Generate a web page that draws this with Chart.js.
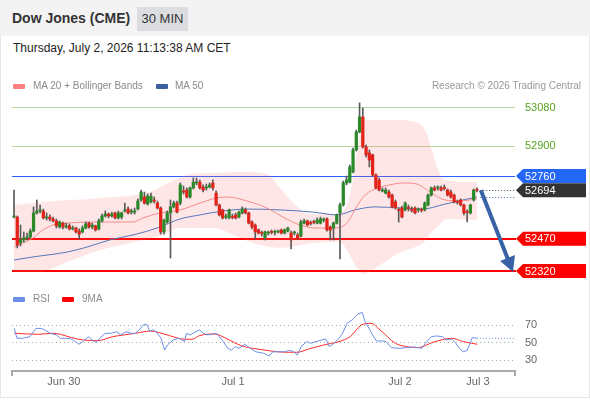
<!DOCTYPE html>
<html><head><meta charset="utf-8">
<script src="https://cdn.jsdelivr.net/npm/chart.js@4.4.1/dist/chart.umd.min.js"></script>
<style>
html,body{margin:0;padding:0;background:#fff;width:590px;height:400px;overflow:hidden;font-family:"Liberation Sans",Arial,sans-serif;}
#frame{position:absolute;left:0;top:0;width:588px;height:397px;border:1px solid #e6e6e6;border-top:none;}
#hdr{position:absolute;left:0;top:0;width:590px;height:36px;background:#f3f3f3;}
#title{position:absolute;left:12px;top:10px;font-size:14px;font-weight:bold;color:#333;}
#tf{position:absolute;left:137px;top:7px;width:51px;height:24px;background:#dcdde1;color:#333;font-size:13px;line-height:24px;text-align:center;}
#date{position:absolute;left:13px;top:41px;font-size:12px;color:#222;}
.leg{position:absolute;font-size:10px;color:#8a8a8a;line-height:12px;z-index:3;}
.sw{position:absolute;width:12px;height:5px;border-radius:1px;z-index:3;}
canvas{position:absolute;left:0;}
</style></head>
<body>
<div id="frame"></div>
<div id="hdr"><div id="title">Dow Jones (CME)</div><div id="tf">30 MIN</div></div>
<div id="date">Thursday, July 2, 2026 11:13:38 AM CET</div>
<div class="sw" style="left:13px;top:84px;background:#ff8080"></div>
<div class="leg" style="left:33px;top:80px">MA 20 + Bollinger Bands</div>
<div class="sw" style="left:156px;top:84px;background:#3b5fa0"></div>
<div class="leg" style="left:175px;top:80px">MA 50</div>
<div class="leg" style="right:9px;top:80px;color:#999">Research © 2026 Trading Central</div>
<div class="sw" style="left:13px;top:297px;background:#6d8fe8"></div>
<div class="leg" style="left:33px;top:293px">RSI</div>
<div class="sw" style="left:62px;top:297px;background:#ff0000"></div>
<div class="leg" style="left:82px;top:293px">9MA</div>
<canvas id="main" width="590" height="202" style="top:80px"></canvas>
<canvas id="rsi" width="590" height="90" style="top:300px"></canvas>
<script>
// ---- candle data (30 min bars) ----
const open=[52570,52570,52450,52464,52473,52478,52505,52589,52598,52598,
52566,52570,52561,52552,52524,52542,52524,52529,52515,52519,
52505,52501,52519,52542,52524,52529,52515,52552,52575,52584,
52575,52589,52566,52570,52598,52607,52593,52593,52607,52649,
52663,52630,52640,52649,52635,52612,52501,52547,52589,52617,
52635,52635,52691,52695,52663,52705,52728,52732,52709,52705,
52709,52728,52681,52626,52603,52570,52566,52570,52580,52570,
52589,52603,52589,52547,52533,52510,52496,52473,52496,52501,
52499,52501,52510,52496,52505,52496,52496,52487,52482,52542,
52552,52542,52547,52542,52542,52556,52561,52524,52519,52542,
52589,52626,52728,52732,52779,52881,52964,53034,52895,52867,
52858,52765,52742,52691,52681,52686,52672,52640,52603,52612,
52603,52612,52603,52612,52603,52603,52603,52626,52672,52705,
52705,52705,52705,52695,52686,52672,52640,52649,52626,52593,
52589,52649,52697];
const high=[52695,52575,52533,52501,52496,52515,52617,52649,52626,52607,
52589,52580,52570,52561,52552,52547,52542,52538,52529,52524,
52515,52529,52547,52547,52542,52533,52561,52584,52598,52589,
52593,52593,52598,52593,52635,52617,52607,52612,52654,52695,
52686,52677,52681,52663,52644,52617,52561,52598,52649,52644,
52644,52728,52714,52705,52709,52751,52751,52742,52719,52723,
52728,52742,52691,52630,52607,52584,52607,52584,52589,52598,
52617,52612,52593,52552,52538,52515,52505,52505,52505,52510,
52510,52510,52515,52515,52524,52505,52505,52496,52556,52561,
52556,52552,52556,52566,52570,52566,52566,52529,52547,52584,
52635,52737,52760,52811,52890,52973,53099,53075,52904,52881,
52862,52770,52751,52705,52705,52695,52677,52649,52612,52621,
52640,52626,52617,52617,52612,52612,52640,52677,52709,52714,
52714,52714,52719,52700,52695,52677,52649,52654,52630,52603,
52630,52700,52705];
const low=[52566,52427,52436,52454,52464,52473,52501,52584,52589,52561,
52556,52552,52547,52519,52519,52515,52519,52510,52510,52496,
52468,52496,52515,52519,52515,52505,52510,52547,52570,52566,
52570,52561,52561,52561,52593,52584,52584,52584,52603,52644,
52630,52626,52635,52635,52607,52491,52491,52542,52380,52612,
52589,52626,52677,52658,52658,52700,52719,52700,52686,52695,
52705,52695,52621,52575,52561,52561,52561,52561,52561,52566,
52584,52584,52538,52515,52468,52491,52482,52464,52487,52491,
52487,52496,52491,52491,52501,52422,52487,52468,52478,52538,
52529,52533,52538,52538,52538,52547,52505,52464,52464,52538,
52376,52621,52719,52728,52774,52876,52960,52890,52848,52802,
52760,52700,52691,52686,52677,52658,52612,52607,52547,52566,
52598,52598,52593,52584,52593,52593,52598,52621,52667,52691,
52695,52691,52695,52667,52658,52635,52630,52621,52580,52547,
52584,52644,52686];
const close=[52575,52440,52464,52473,52478,52505,52589,52598,52603,52566,
52570,52561,52552,52529,52547,52524,52529,52515,52519,52501,
52491,52519,52538,52524,52533,52510,52552,52575,52584,52575,
52584,52566,52589,52589,52603,52589,52598,52595,52644,52686,
52635,52667,52667,52644,52612,52501,52556,52589,52617,52635,
52593,52719,52686,52663,52705,52732,52732,52705,52695,52709,
52719,52705,52626,52580,52566,52572,52603,52568,52566,52593,
52607,52589,52542,52524,52501,52496,52494,52501,52498,52499,
52501,52503,52496,52510,52519,52464,52498,52473,52547,52552,
52533,52540,52545,52556,52561,52558,52510,52510,52542,52580,
52626,52728,52742,52802,52881,52964,53034,52895,52858,52834,
52765,52705,52695,52693,52695,52663,52617,52612,52600,52570,
52635,52610,52601,52589,52605,52601,52635,52672,52705,52695,
52707,52695,52703,52672,52663,52640,52638,52626,52589,52591,
52626,52695,52694];

// ---- indicators (bar index, value) ----
const ma20Idx=[0,5.8,8.9,12,16.3,26.4,36.5,39.6,44.8,50.9,57.1,61,65.3,72.4,77.6,82.5,87.7,92.9,97.9,102.1,105.2,107.7,111.7,115.3,119.3,123.6,127.6,132.2,136.8,142];
const ma20Val=[52431,52473,52510,52533,52542,52547,52547,52566,52589,52603,52635,52654,52663,52640,52612,52570,52533,52519,52519,52542,52621,52672,52705,52719,52728,52723,52686,52649,52645,52654];
const ma50Idx=[0,5.8,16.3,22.4,29.4,36.5,43.9,50.9,57.1,64.1,71.5,81.6,91.7,99.1,104.6,110.7,118.4,125.2,132.2,137.7,142];
const ma50Val=[52371,52385,52408,52431,52464,52487,52519,52561,52580,52598,52607,52603,52593,52580,52603,52617,52612,52607,52630,52649,52663];
const bbUpIdx=[0,8.9,26.4,41.7,47.9,54,61,69.3,77.6,81.6,85.6,90.8,98.5,102.1,103.7,105.2,106.7,108.3,117.5,123,126.1,128.2,130.1,132.2,142];
const bbUpVal=[52626,52640,52658,52686,52732,52770,52774,52779,52770,52705,52635,52584,52584,52626,52719,52872,52992,53020,53020,53010,52973,52881,52788,52742,52732];
const bbLoIdx=[0,8,14.1,26.4,35.6,44.8,50.9,61,69.3,75.5,81.6,91.7,100,102.1,104.6,107.1,112.3,117.5,122.4,125.5,127.6,130.7,132.8,142];
const bbLoVal=[52315,52315,52348,52417,52450,52482,52519,52519,52473,52440,52427,52450,52454,52417,52348,52306,52348,52399,52427,52450,52491,52538,52561,52556];

const rsiIdx=[0.1,0.9,2.6,4.9,6.7,8.4,9.6,11.3,13,14.2,15.9,17.6,18.8,19.9,21.1,22.8,24,25.2,26.3,28,29.8,31.5,32.7,34.4,35.6,37.3,38.4,39.6,40.7,41.7,42.5,43.6,45.1,46.2,47.1,48.8,50.6,52.3,52.9,54,55.8,56.9,58.1,59.2,60.9,62.1,63.8,65.6,66.7,67.9,69,70.8,72.5,74.2,76.6,78.3,79.4,81.2,82.9,84.6,85.8,86.9,88.1,89.8,91,92.7,94.4,95.6,96.7,97.9,99.7,100.8,102.2,103.7,105.4,106.8,107.7,108.9,110,111.2,112.9,114.1,115.8,118.1,120.4,122.8,125.1,126.2,128,129.7,131.4,132.6,134.3,135.5,136.6,137.8,139,140.6,142];
const rsiVal=[66,54.6,54.6,56.5,66,66,64,60,58.5,54.6,54.6,53.8,50.8,47.7,50.8,56.5,52.7,50,54.6,60.4,60.4,62.3,58.5,62.3,60.4,60.4,64.2,70,70.8,62.3,64.2,62.3,54.6,41,46.9,52.7,54.6,50.8,60.4,58.5,62.3,64.2,60.4,58.5,59.2,60.4,52.7,43,41,45,43,47.7,43,39,37.3,34.2,39,39,39,40.8,39,35.4,45,50.8,48.8,50.8,52.7,53.8,45,47.7,54.6,60.4,72,75.8,82.3,84.6,73.8,66,58.5,51.5,51.5,50.8,43.8,43,43.8,44.6,43,48.8,56.5,57.3,56.5,52.7,53.8,48.8,43,39,40.8,55.4,54.6];
const ma9Idx=[0.1,7.3,11.9,14.2,17.6,21.1,25.7,30.3,33.8,37.3,41.9,44.2,47.7,52.3,54.6,56.9,61.5,65,69.6,76.6,83.5,86.9,90.4,95,99.7,103.1,106.6,109.5,112.3,117,120.4,123.9,128.5,134.3,137.8,142.1];
const ma9Val=[60.4,59.2,60.4,59.2,55.4,52.7,51.9,56.5,58.5,60.4,63,61.5,57.7,53.5,53.5,57.7,59.6,54.6,46.2,41.2,38.5,38.5,42.3,46.9,50.8,56.5,70,71.9,64.2,48.8,45,43.8,50,54.6,50.8,47.7];

// ---- levels and labels ----
const resistLevels=[53080,52900];
const pivotLevel=52760;
const supportLevels=[52470,52320];
const targetLevel=52320;
const rsiLevels=[70,50,30];
const xTickIdx=[15.3,67.2,118.4,142.3];
const xTickLabels=['Jun 30','Jul 1','Jul 2','Jul 3'];

const X_MIN=-0.6135, X_MAX=153.68;
const FONT="11px 'Liberation Sans', Arial, sans-serif";
const GREEN='#2a8a2a', RED='#e2231a', DOJI='#555';
const pts=(a,b)=>a.map((v,i)=>({x:v,y:b[i]}));
const lastI=close.length-1;
const lastClose=close[lastI];
const lastMa50=ma50Val[ma50Val.length-1];

function hline(ctx,x1,x2,y,color,w,dash){
  ctx.save();ctx.strokeStyle=color;ctx.lineWidth=w;ctx.setLineDash(dash||[]);
  ctx.beginPath();ctx.moveTo(x1,y);ctx.lineTo(x2,y);ctx.stroke();ctx.restore();
}
function tagBox(ctx,x,y,color,text){
  ctx.save();ctx.fillStyle=color;ctx.beginPath();
  ctx.moveTo(x+1,y);ctx.lineTo(x+8,y-7);ctx.lineTo(586,y-7);ctx.lineTo(586,y+7);ctx.lineTo(x+8,y+7);ctx.closePath();ctx.fill();
  ctx.fillStyle='#fff';ctx.font=FONT;ctx.textBaseline='middle';ctx.textAlign='left';ctx.fillText(text,x+10,y+0.5);ctx.restore();
}

const mainPlugin={
  id:'mainDeco',
  beforeDatasetsDraw(chart){
    const {ctx,chartArea:a,scales:{y}}=chart;
    resistLevels.forEach(v=>hline(ctx,a.left,a.right,Math.round(y.getPixelForValue(v))+0.5,'#b5d99e',1));
    hline(ctx,a.left,a.right,Math.round(y.getPixelForValue(pivotLevel))+0.5,'#2962ff',1);
    supportLevels.forEach(v=>hline(ctx,a.left,a.right+1,Math.round(y.getPixelForValue(v)),'#ff0000',2));
  },
  afterDatasetsDraw(chart){
    const {ctx,chartArea:a,scales:{x,y}}=chart;
    const xs=x.getPixelForValue(lastI+1);
    hline(ctx,xs,a.right,Math.round(y.getPixelForValue(lastClose))+0.5,'#555',1,[1,2]);
    hline(ctx,xs,a.right,Math.round(y.getPixelForValue(lastMa50))+0.5,'#4a6fb5',1,[1,2]);
    // arrow toward target
    const x0=x.getPixelForValue(lastI+1.2), y0=y.getPixelForValue(lastClose);
    const x1=a.right-2, y1=y.getPixelForValue(targetLevel)+1;
    const ang=Math.atan2(y1-y0,x1-x0), hl=15, hw=8;
    const bx=x1-hl*Math.cos(ang), by=y1-hl*Math.sin(ang);
    ctx.save();ctx.strokeStyle='#3762a6';ctx.fillStyle='#3762a6';ctx.lineWidth=4;ctx.lineCap='butt';
    ctx.beginPath();ctx.moveTo(x0,y0);ctx.lineTo(bx+2*Math.cos(ang),by+2*Math.sin(ang));ctx.stroke();
    ctx.beginPath();ctx.moveTo(x1,y1);
    ctx.lineTo(bx+hw*Math.sin(ang),by-hw*Math.cos(ang));
    ctx.lineTo(bx-hw*Math.sin(ang),by+hw*Math.cos(ang));ctx.closePath();ctx.fill();ctx.restore();
  },
  afterDraw(chart){
    const {ctx,chartArea:a,scales:{y}}=chart;
    ctx.save();ctx.font=FONT;ctx.fillStyle='#58a21f';ctx.textBaseline='middle';
    resistLevels.forEach(v=>ctx.fillText(String(v),a.right+10,y.getPixelForValue(v)+0.5));
    ctx.restore();
    tagBox(ctx,a.right,y.getPixelForValue(pivotLevel),'#2466f5',String(pivotLevel));
    tagBox(ctx,a.right,y.getPixelForValue(lastClose),'#333333',String(lastClose));
    supportLevels.forEach(v=>tagBox(ctx,a.right,y.getPixelForValue(v),'#ff0000',String(v)));
  }
};

const candleColor=c=>{const i=c.dataIndex;if(i===undefined)return DOJI;return close[i]>open[i]?GREEN:(close[i]<open[i]?RED:DOJI);};

new Chart(document.getElementById('main'),{
  type:'line',
  data:{datasets:[
    {type:'line',data:pts(bbUpIdx,bbUpVal),borderWidth:0,pointRadius:0,fill:'+1',backgroundColor:'rgba(255,100,100,0.16)',cubicInterpolationMode:'monotone',order:10},
    {type:'line',data:pts(bbLoIdx,bbLoVal),borderWidth:0,pointRadius:0,fill:false,cubicInterpolationMode:'monotone',order:11},
    {type:'line',data:pts(ma50Idx,ma50Val),borderColor:'#5577bb',borderWidth:1,pointRadius:0,cubicInterpolationMode:'monotone',order:5},
    {type:'line',data:pts(ma20Idx,ma20Val),borderColor:'#f58a8a',borderWidth:1,pointRadius:0,cubicInterpolationMode:'monotone',order:4},
    {type:'bar',data:open.map((o,i)=>({x:i,y:[low[i],high[i]]})),barThickness:1,backgroundColor:'#5a5a5a',grouped:false,order:2},
    {type:'bar',data:open.map((o,i)=>({x:i,y:[o,close[i]]})),barThickness:2.6,backgroundColor:candleColor,grouped:false,minBarLength:1,order:1}
  ]},
  options:{
    animation:false,responsive:false,devicePixelRatio:1,
    layout:{padding:{left:12,right:75,top:0,bottom:0}},
    plugins:{legend:{display:false},tooltip:{enabled:false}},
    scales:{
      x:{type:'linear',min:X_MIN,max:X_MAX,display:false,offset:false},
      y:{type:'linear',min:52269,max:53205.1,display:false}
    }
  },
  plugins:[mainPlugin]
});

const rsiPlugin={
  id:'rsiDeco',
  beforeDatasetsDraw(chart){
    const {ctx,chartArea:a,scales:{y}}=chart;
    rsiLevels.forEach(v=>hline(ctx,a.left,a.right,Math.round(y.getPixelForValue(v))+0.5,'#aaaaaa',1,[1,3]));
  },
  afterDraw(chart){
    const {ctx,chartArea:a,scales:{x,y}}=chart;
    ctx.save();ctx.font=FONT;ctx.fillStyle='#666';ctx.textBaseline='middle';ctx.textAlign='left';
    rsiLevels.forEach(v=>ctx.fillText(String(v),a.right+10,y.getPixelForValue(v)+0.5));
    ctx.strokeStyle='#aaaaaa';ctx.lineWidth=2;
    ctx.beginPath();ctx.moveTo(a.left-1,a.bottom-1);ctx.lineTo(a.right+1,a.bottom-1);ctx.stroke();
    ctx.beginPath();ctx.moveTo(a.left,a.bottom-1);ctx.lineTo(a.left,a.bottom+4);
    ctx.moveTo(a.right,a.bottom-1);ctx.lineTo(a.right,a.bottom+4);ctx.stroke();
    ctx.textAlign='center';ctx.fillStyle='#666';
    xTickIdx.forEach((v,i)=>ctx.fillText(xTickLabels[i],x.getPixelForValue(v),a.bottom+10));
    ctx.restore();
  }
};

new Chart(document.getElementById('rsi'),{
  type:'line',
  data:{datasets:[
    {data:pts(rsiIdx,rsiVal),borderColor:'#6d8fe8',borderWidth:1,pointRadius:0,tension:0},
    {data:pts(ma9Idx,ma9Val),borderColor:'#ff2a2a',borderWidth:1,pointRadius:0,cubicInterpolationMode:'monotone'},
    {data:[{x:rsiIdx[rsiIdx.length-1],y:rsiVal[rsiVal.length-1]},{x:X_MAX,y:rsiVal[rsiVal.length-1]}],borderColor:'#6d8fe8',borderWidth:1,borderDash:[1,2],pointRadius:0}
  ]},
  options:{
    animation:false,responsive:false,devicePixelRatio:1,
    layout:{padding:{left:12,right:75,top:0,bottom:18}},
    plugins:{legend:{display:false},tooltip:{enabled:false}},
    scales:{
      x:{type:'linear',min:X_MIN,max:X_MAX,display:false},
      y:{type:'linear',min:15.7,max:98.8,display:false}
    }
  },
  plugins:[rsiPlugin]
});
</script>
</body></html>
